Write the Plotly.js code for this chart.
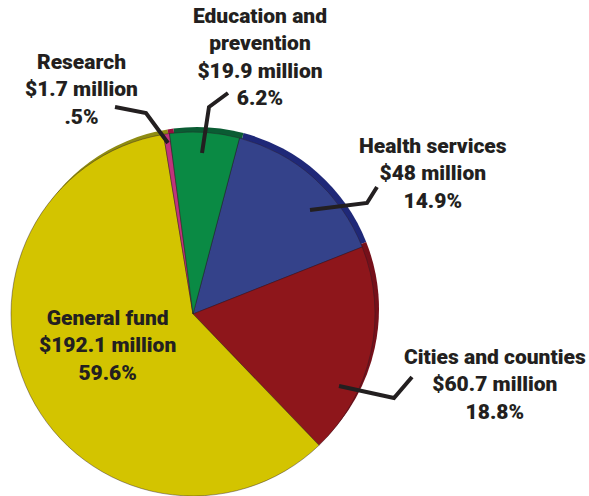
<!DOCTYPE html>
<html>
<head>
<meta charset="utf-8">
<script src="https://cdn.plot.ly/plotly-3.0.1.min.js"></script>
<style>html,body{margin:0;padding:0;background:#fff;}#chart{width:589px;height:496px;}</style>
</head>
<body>
<div id="chart"></div>
<script>
// Data
var categories = ["Health services", "Cities and counties", "General fund", "Research", "Education and prevention"];
var amounts = [48, 60.7, 192.1, 1.7, 19.9];            // $ million
var amountLabels = ["$48 million", "$60.7 million", "$192.1 million", "$1.7 million", "$19.9 million"];
var percentLabels = ["14.9%", "18.8%", "59.6%", ".5%", "6.2%"];
var faceColors = ["#34428A", "#8E161B", "#D3C400", "#C0347C", "#0A8A44"];
var rimColors = ["#1F2878", "#76101A", "#8F8C12", "#9A0D3E", "#0A5C33"];

var W = 589, H = 496;
function px(x) { return x / W; }
function py(y) { return 1 - y / H; }

var rotationDeg = 14.8;

var rim = {
  type: "pie",
  values: amounts,
  labels: categories,
  sort: false,
  direction: "clockwise",
  rotation: rotationDeg,
  textinfo: "none",
  hoverinfo: "skip",
  showlegend: false,
  marker: { colors: rimColors, line: { width: 0 } },
  domain: { x: [px(15), px(379)], y: [py(491), py(127)] }
};
var face = {
  type: "pie",
  values: amounts,
  labels: categories,
  sort: false,
  direction: "clockwise",
  rotation: rotationDeg,
  textinfo: "none",
  hoverinfo: "skip",
  showlegend: false,
  marker: { colors: faceColors, line: { width: 0.6, color: "rgba(40,25,35,0.7)" } },
  domain: { x: [px(11), px(375)], y: [py(496), py(132)] }
};

// label blocks: [category index, center x px, center y px, first line(s)]
var labelText = [
  [3, 81, 89, categories[3]],
  [4, 260, 57, "Education and<br>prevention"],
  [0, 432.5, 173, categories[0]],
  [1, 494.5, 384, categories[1]],
  [2, 107.5, 345, categories[2]]
];
var annotations = labelText.map(function (l) {
  var i = l[0];
  return {
    xref: "paper", yref: "paper",
    x: px(l[1]), y: py(l[2]),
    xanchor: "center", yanchor: "middle",
    showarrow: false,
    align: "center",
    text: l[3] + "<br>" + amountLabels[i] + "<br>" + percentLabels[i],
    font: { family: "Roboto, 'Open Sans', sans-serif", size: 21, weight: 900, color: "#231F20" }
  };
});

// leader lines (pixel coordinates)
var leaders = [
  [[115, 107], [146, 113], [168, 143]],
  [[228, 93], [209, 107], [202, 153]],
  [[377, 187], [367, 203], [310, 210]],
  [[412, 377], [394, 398], [339, 386]]
];
var shapes = leaders.map(function (pts) {
  var d = pts.map(function (p, k) { return (k ? "L" : "M") + px(p[0]) + "," + py(p[1]); }).join(" ");
  return { type: "path", xref: "paper", yref: "paper", path: d, line: { color: "#231F20", width: 4 } };
});

var layout = {
  width: W, height: H,
  margin: { l: 0, r: 0, t: 0, b: 0 },
  paper_bgcolor: "#ffffff",
  showlegend: false,
  annotations: annotations,
  shapes: shapes
};
Plotly.newPlot("chart", [rim, face], layout, { displayModeBar: false, staticPlot: true });
</script>
</body>
</html>
